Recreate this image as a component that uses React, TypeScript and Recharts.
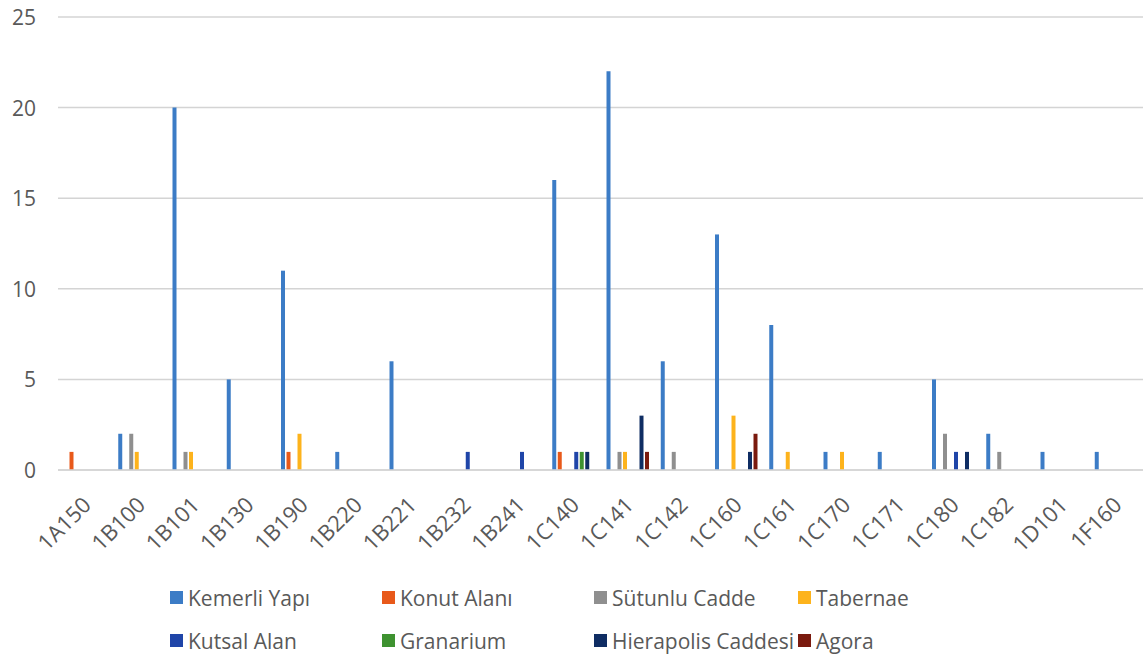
import React from "react";
import { BarChart, Bar, XAxis, YAxis, CartesianGrid, Legend } from "recharts";

const categories = ["1A150","1B100","1B101","1B130","1B190","1B220","1B221","1B232","1B241","1C140","1C141","1C142","1C160","1C161","1C170","1C171","1C180","1C182","1D101","1F160"];

const kemerliYapi = [0,2,20,5,11,1,6,0,0,16,22,6,13,8,1,1,5,2,1,1];
const konutAlani = [1,0,0,0,1,0,0,0,0,1,0,0,0,0,0,0,0,0,0,0];
const sutunluCadde = [0,2,1,0,0,0,0,0,0,0,1,1,0,0,0,0,2,1,0,0];
const tabernae = [0,1,1,0,2,0,0,0,0,0,1,0,3,1,1,0,0,0,0,0];
const kutsalAlan = [0,0,0,0,0,0,0,1,1,1,0,0,0,0,0,0,1,0,0,0];
const granarium = [0,0,0,0,0,0,0,0,0,1,0,0,0,0,0,0,0,0,0,0];
const hierapolisCaddesi = [0,0,0,0,0,0,0,0,0,1,3,0,1,0,0,0,1,0,0,0];
const agora = [0,0,0,0,0,0,0,0,0,0,1,0,2,0,0,0,0,0,0,0];

const yTicks = [0, 5, 10, 15, 20, 25];

const series = [
  { key: "k1", name: "Kemerli Yapı", values: kemerliYapi, color: "#3C7CC6" },
  { key: "k2", name: "Konut Alanı", values: konutAlani, color: "#E8591A" },
  { key: "k3", name: "Sütunlu Cadde", values: sutunluCadde, color: "#8F8F8F" },
  { key: "k4", name: "Tabernae", values: tabernae, color: "#FDB31C" },
  { key: "k5", name: "Kutsal Alan", values: kutsalAlan, color: "#1F45A8" },
  { key: "k6", name: "Granarium", values: granarium, color: "#3E9230" },
  { key: "k7", name: "Hierapolis Caddesi", values: hierapolisCaddesi, color: "#0F2D63" },
  { key: "k8", name: "Agora", values: agora, color: "#7A1A0E" },
];

const data = categories.map((c, i) => {
  const row: any = { cat: c };
  series.forEach((s) => {
    row[s.key] = s.values[i] === 0 ? null : s.values[i];
  });
  return row;
});

const FONT = "'Open Sans', sans-serif";
const TEXT = "#595959";

const XTick = (props: any) => {
  const { x, y, payload } = props;
  return (
    <g transform={`translate(${x + 1},${y + 22})`}>
      <text
        x={0}
        y={0}
        transform="rotate(-45)"
        textAnchor="end"
        dominantBaseline="central"
        fontFamily={FONT}
        fontSize={22}
        fill={TEXT}
      >
        {payload.value}
      </text>
    </g>
  );
};

const YTick = (props: any) => {
  const { x, y, payload } = props;
  return (
    <text
      x={x}
      y={y}
      textAnchor="end"
      dominantBaseline="central"
      fontFamily={FONT}
      fontSize={21}
      fill={TEXT}
    >
      {payload.value}
    </text>
  );
};

const renderLegend = () => (
  <div
    style={{
      height: 80,
      paddingLeft: 170,
      boxSizing: "border-box",
      display: "grid",
      gridTemplateColumns: "212px 212px 204px 212px",
      gridAutoRows: "43px",
      fontFamily: FONT,
      fontSize: 21,
      color: TEXT,
      paddingTop: 0,
    }}
  >
    {series.map((s) => (
      <div key={s.key} style={{ display: "flex", alignItems: "center", whiteSpace: "nowrap" }}>
        <span
          style={{
            display: "inline-block",
            width: 13,
            height: 13,
            background: s.color,
            marginRight: 5,
          }}
        />
        <span>{s.name}</span>
      </div>
    ))}
  </div>
);

export default function App() {
  return (
    <div style={{ position: "absolute", left: 0, top: 0, width: 1145, height: 656, background: "#fff" }}>
      <BarChart
        width={1145}
        height={656}
        data={data}
        margin={{ top: 17, right: 2, bottom: 0, left: 0 }}
        barSize={4}
        barGap={1.5}
      >
        <CartesianGrid vertical={false} stroke="#d4d4d4" strokeWidth={1.5} />
        <XAxis
          dataKey="cat"
          height={106}
          interval={0}
          tick={<XTick />}
          tickLine={false}
          axisLine={{ stroke: "#d4d4d4", strokeWidth: 1.5 }}
        />
        <YAxis
          width={58}
          domain={[0, 25]}
          ticks={yTicks}
          tick={<YTick />}
          tickLine={false}
          axisLine={false}
          tickMargin={16}
        />
        <Legend verticalAlign="bottom" align="left" height={80} content={renderLegend} wrapperStyle={{ left: 0, width: 1145 }} />
        {series.map((s) => (
          <Bar key={s.key} dataKey={s.key} name={s.name} fill={s.color} isAnimationActive={false} />
        ))}
      </BarChart>
    </div>
  );
}
